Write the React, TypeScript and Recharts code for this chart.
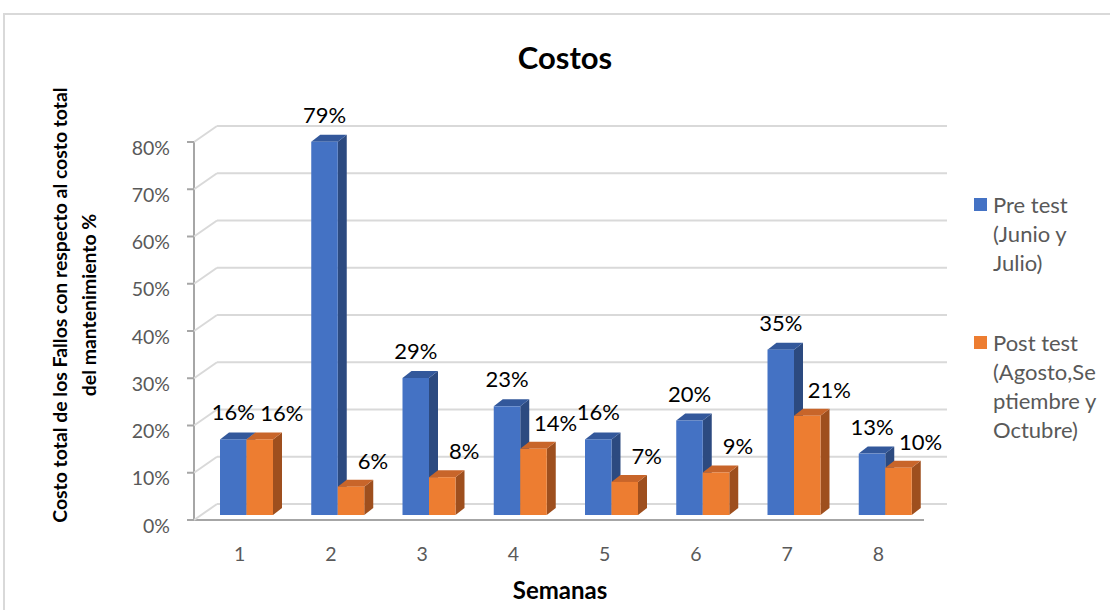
import { BarChart, Bar, XAxis, YAxis, CartesianGrid, Legend, LabelList } from "recharts"

const weeks = ["1", "2", "3", "4", "5", "6", "7", "8"]
const preTest = [16, 79, 29, 23, 16, 20, 35, 13]
const postTest = [16, 6, 8, 14, 7, 9, 21, 10]
const percentTicks = [0, 10, 20, 30, 40, 50, 60, 70, 80]
const seriesNames = ["Pre test (Junio y Julio)", "Post test (Agosto,Septiembre y Octubre)"]
const legendLines = [
  ["Pre test", "(Junio y", "Julio)"],
  ["Post test", "(Agosto,Se", "ptiembre y", "Octubre)"],
]

const rows = weeks.map((week, i) => ({ week, pre: preTest[i], post: postTest[i] }))

const FONT = "Lato, 'Open Sans', sans-serif"
const GRID = "#d9d9d9"
const AXIS = "#a6a6a6"
const TEXT = "#595959"

// 3D offsets: bar depth, bar plane -> back wall, bar plane -> front
const DEPTH_X = 9
const DEPTH_Y = 7
const BACK_X = 16
const BACK_Y = 11
const FRONT_X = 7
const FRONT_Y = 5

const blue = { front: "#4472c4", side: "#2c4a80", top: "#33589b" }
const orange = { front: "#ed7d31", side: "#9e4f1e", top: "#c8652a" }

function Box3D(props: any) {
  const { x, y, width, height, colors } = props
  if (height == null || width == null) return null
  const r = x + width
  const b = y + height
  return (
    <g>
      <polygon
        points={`${r},${y} ${r + DEPTH_X},${y - DEPTH_Y} ${r + DEPTH_X},${b - DEPTH_Y} ${r},${b}`}
        fill={colors.side}
      />
      <polygon
        points={`${x},${y} ${x + DEPTH_X},${y - DEPTH_Y} ${r + DEPTH_X},${y - DEPTH_Y} ${r},${y}`}
        fill={colors.top}
      />
      <rect x={x} y={y} width={width} height={height} fill={colors.front} />
    </g>
  )
}

function YTick(props: any) {
  const { x, y, payload } = props
  const fx = x - FRONT_X
  const fy = y + FRONT_Y
  return (
    <g>
      <line x1={fx} y1={fy} x2={x + BACK_X} y2={y - BACK_Y} stroke={GRID} strokeWidth={2} />
      <line x1={fx - 7} y1={fy} x2={fx} y2={fy} stroke={AXIS} strokeWidth={2} />
      <text
        x={fx - 24}
        y={fy + 5}
        textAnchor="end"
        dominantBaseline="central"
        fontFamily={FONT}
        fontSize={19.5}
        fill={TEXT}
      >
        {payload.value}%
      </text>
    </g>
  )
}

function XTick(props: any) {
  const { x, y, payload } = props
  return (
    <text
      x={x - FRONT_X}
      y={y + 38}
      textAnchor="middle"
      dominantBaseline="central"
      fontFamily={FONT}
      fontSize={19.5}
      fill={TEXT}
    >
      {payload.value}
    </text>
  )
}

function YTitle() {
  return (
    <g fontFamily={FONT} fontWeight={700} fontSize={19.4} fill="#000">
      <text transform="translate(67,305) rotate(-90)" textAnchor="middle">
        Costo total de los Fallos con respecto al costo total
      </text>
      <text transform="translate(96,305) rotate(-90)" textAnchor="middle">
        del mantenimiento %
      </text>
    </g>
  )
}

function XTitle() {
  return (
    <text
      x={560}
      y={589}
      textAnchor="middle"
      dominantBaseline="central"
      fontFamily={FONT}
      fontWeight={700}
      fontSize={24}
      fill="#000"
    >
      Semanas
    </text>
  )
}

const preLabel = (p: any) => (
  <text
    x={p.x + p.width / 2}
    y={p.y - 19}
    textAnchor="middle"
    fontFamily={FONT}
    fontSize={22}
    fill="#000"
  >
    {p.value}%
  </text>
)

const postLabel = (p: any) => (
  <text
    x={p.x + p.width / 2 + 22}
    y={p.y - 18}
    textAnchor="middle"
    fontFamily={FONT}
    fontSize={22}
    fill="#000"
  >
    {p.value}%
  </text>
)

function LegendBox() {
  const swatches = [blue.front, orange.front]
  return (
    <div style={{ fontFamily: FONT, fontSize: 22, lineHeight: "29px", color: TEXT }}>
      {legendLines.map((lines, i) => (
        <div key={i} style={{ position: "relative", paddingLeft: 19, marginBottom: i === 0 ? 51 : 0 }}>
          <span
            style={{ position: "absolute", left: 0, top: 8, width: 13, height: 13, background: swatches[i] }}
          />
          {lines.map((l) => (
            <div key={l} style={{ whiteSpace: "nowrap" }}>{l}</div>
          ))}
        </div>
      ))}
    </div>
  )
}

export default function App() {
  return (
    <div
      style={{
        position: "absolute",
        left: 0,
        top: 0,
        width: 1110,
        height: 610,
        overflow: "hidden",
        background: "#fff",
      }}
    >
      <div
        style={{
          position: "absolute",
          left: 3,
          top: 13,
          width: 1130,
          height: 620,
          border: "2px solid #d9d9d9",
          boxSizing: "border-box",
        }}
      />
      <div
        style={{
          position: "absolute",
          left: 0,
          top: 39,
          width: 1130,
          textAlign: "center",
          fontFamily: FONT,
          fontWeight: 700,
          fontSize: 31,
          lineHeight: "37px",
          color: "#000",
        }}
      >
        Costos
      </div>
      <div style={{ position: "absolute", left: 0, top: 0 }}>
        <BarChart
          width={1110}
          height={610}
          data={rows}
          margin={{ top: 137, right: 179, bottom: 65, left: 141 }}
          barGap={0}
          barSize={26.5}
        >
          <CartesianGrid
            vertical={false}
            horizontal={(p: any) => (
              <line
                key={p.key}
                x1={p.x1 + BACK_X}
                y1={p.y1 - BACK_Y}
                x2={p.x2 + BACK_X}
                y2={p.y2 - BACK_Y}
                stroke={GRID}
                strokeWidth={2}
              />
            )}
          />
          <XAxis
            dataKey="week"
            height={30}
            tickLine={false}
            tickSize={0}
            tickMargin={0}
            axisLine={{ stroke: AXIS, strokeWidth: 2, transform: `translate(${-FRONT_X},${FRONT_Y})` }}
            tick={<XTick />}
            label={<XTitle />}
          />
          <YAxis
            type="number"
            width={60}
            domain={[0, 80]}
            ticks={percentTicks}
            tickLine={false}
            tickSize={0}
            tickMargin={0}
            axisLine={{ stroke: AXIS, strokeWidth: 2, transform: `translate(${-FRONT_X},${FRONT_Y})` }}
            tick={<YTick />}
            label={<YTitle />}
          />
          <Legend
            layout="vertical"
            align="center"
            verticalAlign="middle"
            wrapperStyle={{ left: 974, top: 190, width: 136 }}
            content={<LegendBox />}
          />
          <Bar
            dataKey="pre"
            name={seriesNames[0]}
            fill={blue.front}
            isAnimationActive={false}
            shape={(p: any) => <Box3D {...p} colors={blue} />}
          >
            <LabelList dataKey="pre" content={preLabel} />
          </Bar>
          <Bar
            dataKey="post"
            name={seriesNames[1]}
            fill={orange.front}
            isAnimationActive={false}
            shape={(p: any) => <Box3D {...p} colors={orange} />}
          >
            <LabelList dataKey="post" content={postLabel} />
          </Bar>
        </BarChart>
      </div>
    </div>
  )
}
